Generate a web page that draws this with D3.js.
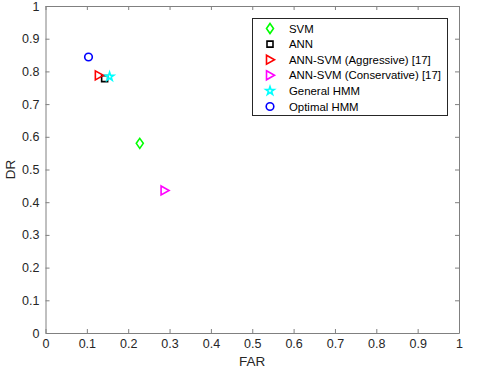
<!DOCTYPE html>
<html><head><meta charset="utf-8">
<script src="https://d3js.org/d3.v7.min.js"></script>
<style>body{margin:0;background:#fff}svg{display:block}text{font-family:"Liberation Sans",Arial,sans-serif}</style>
</head><body><svg id="c" width="480" height="377"></svg>
<script>
const methods = ["SVM","ANN","ANN-SVM (Aggressive) [17]","ANN-SVM (Conservative) [17]","General HMM","Optimal HMM"];
const farValues = [0.228, 0.143, 0.129, 0.288, 0.155, 0.104];
const drValues = [0.580, 0.778, 0.788, 0.436, 0.784, 0.844];
const markers = ["diamond","square","triangleRight","triangleRight","star","circle"];
const colors = ["#00ff00","#000000","#ff0000","#ff00ff","#00ffff","#0000ff"];
const tickValues = [0,0.1,0.2,0.3,0.4,0.5,0.6,0.7,0.8,0.9,1];
const xLabel = "FAR", yLabel = "DR";

const svg = d3.select("#c");
const L=45.5, R=459, T=6, B=333;
const x = d3.scaleLinear().domain([0,1]).range([L,R]);
const y = d3.scaleLinear().domain([0,1]).range([B,T]);
const fmt = d => d===0?"0":d===1?"1":d3.format(".1f")(d);
const axisCol = "#808080", txtCol = "#262626";

function styleAxis(g){
  g.select(".domain").attr("stroke",axisCol);
  g.selectAll(".tick line").attr("stroke",axisCol);
  g.selectAll(".tick text").attr("fill",txtCol).attr("font-size","12.5px");
}
svg.append("g").attr("transform",`translate(0,${B})`)
  .call(d3.axisBottom(x).tickValues(tickValues).tickFormat(fmt).tickSizeInner(-4).tickSizeOuter(0).tickPadding(6)).call(styleAxis);
svg.append("g").attr("transform",`translate(0,${T})`)
  .call(d3.axisTop(x).tickValues(tickValues).tickFormat("").tickSizeInner(-4).tickSizeOuter(0)).call(styleAxis);
svg.append("g").attr("transform",`translate(${L},0)`)
  .call(d3.axisLeft(y).tickValues(tickValues).tickFormat(fmt).tickSizeInner(-4).tickSizeOuter(0).tickPadding(6)).call(styleAxis);
svg.append("g").attr("transform",`translate(${R},0)`)
  .call(d3.axisRight(y).tickValues(tickValues).tickFormat("").tickSizeInner(-4).tickSizeOuter(0)).call(styleAxis);

svg.append("text").attr("x",(L+R)/2).attr("y",B+33).attr("text-anchor","middle").attr("font-size","13.5px").attr("fill",txtCol).text(xLabel);
svg.append("text").attr("transform",`translate(15,${(T+B)/2}) rotate(-90)`).attr("text-anchor","middle").attr("font-size","13.5px").attr("fill",txtCol).text(yLabel);

function markerPath(type){
  switch(type){
    case "diamond": return "M0,-5L3.5,0L0,5L-3.5,0Z";
    case "square": return "M-3,-3H3V3H-3Z";
    case "triangleRight": return "M-3.5,-4.5L4.5,0L-3.5,4.5Z";
    case "star": return d3.symbol(d3.symbolStar,22)();
    case "circle": return "M3.8,0A3.8,3.8 0 1,1 -3.8,0A3.8,3.8 0 1,1 3.8,0Z";
  }
}
const data = methods.map((m,i)=>({m,far:farValues[i],dr:drValues[i],mk:markers[i],c:colors[i]}));
svg.append("g").selectAll("path").data(data).join("path")
  .attr("transform",d=>`translate(${x(d.far)},${y(d.dr)})`)
  .attr("d",d=>markerPath(d.mk)).attr("fill","none").attr("stroke",d=>d.c).attr("stroke-width",1.6);

// legend
const lg = svg.append("g");
lg.append("rect").attr("x",252.5).attr("y",18.5).attr("width",195).attr("height",97).attr("fill","#fff").attr("stroke","#262626").attr("stroke-width",1);
data.forEach((d,i)=>{
  const yy = 28.5 + i*15.6;
  lg.append("path").attr("transform",`translate(270,${yy})`).attr("d",markerPath(d.mk)).attr("fill","none").attr("stroke",d.c).attr("stroke-width",1.6);
  lg.append("text").attr("x",289).attr("y",yy+4).attr("font-size","11.4px").attr("fill","#000").text(d.m);
});
</script></body></html>
